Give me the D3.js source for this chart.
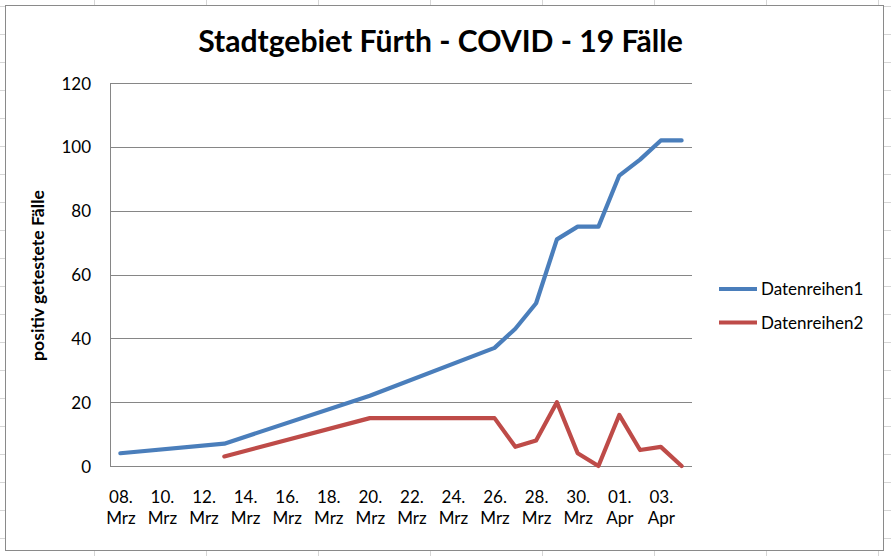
<!DOCTYPE html>
<html><head><meta charset="utf-8">
<script src="https://cdn.jsdelivr.net/npm/d3@7"></script>
<style>html,body{margin:0;padding:0;background:#fff;} svg{display:block;}</style>
</head><body><svg id="c" width="891" height="556"></svg>
<script>
const title = "Stadtgebiet Fürth - COVID - 19 Fälle";
const yAxisTitle = "positiv getestete Fälle";
const seriesNames = ["Datenreihen1", "Datenreihen2"];
const seriesColors = ["#4a7ebb", "#be4b48"];
const dates1 = ["2020-03-08","2020-03-13","2020-03-20","2020-03-26","2020-03-27","2020-03-28","2020-03-29","2020-03-30","2020-03-31","2020-04-01","2020-04-02","2020-04-03","2020-04-04"];
const values1 = [4, 7, 22, 37, 43, 51, 71, 75, 75, 91, 96, 102, 102];
const dates2 = ["2020-03-13","2020-03-20","2020-03-26","2020-03-27","2020-03-28","2020-03-29","2020-03-30","2020-03-31","2020-04-01","2020-04-02","2020-04-03","2020-04-04"];
const values2 = [3, 15, 15, 6, 8, 20, 4, 0, 16, 5, 6, 0];
const yTicks = [0, 20, 40, 60, 80, 100, 120];
const xTickDates = ["2020-03-08","2020-03-10","2020-03-12","2020-03-14","2020-03-16","2020-03-18","2020-03-20","2020-03-22","2020-03-24","2020-03-26","2020-03-28","2020-03-30","2020-04-01","2020-04-03"];
const monthAbbr = ["Jan","Feb","Mrz","Apr","Mai","Jun","Jul","Aug","Sep","Okt","Nov","Dez"];
const firstDay = "2020-03-08", lastDay = "2020-04-04";

const FONT = "Lato, 'Open Sans', sans-serif";
const parse = d3.utcParse("%Y-%m-%d");
const svg = d3.select("#c");
const W = 891, H = 556;

// spreadsheet cell grid behind the chart
const bg = svg.append("g");
bg.append("rect").attr("width", W).attr("height", H).attr("fill", "#fff");
for (let x = 94; x < W; x += 112) bg.append("line").attr("x1", x + 0.5).attr("x2", x + 0.5).attr("y1", 0).attr("y2", H).attr("stroke", "#d6d6d6");
for (let y = 5.5; y < H; y += 28.05) bg.append("line").attr("x1", 0).attr("x2", W).attr("y1", Math.round(y) + 0.5).attr("y2", Math.round(y) + 0.5).attr("stroke", "#d6d6d6");

// chart area
svg.append("rect").attr("x", 5.5).attr("y", 5.5).attr("width", 878).attr("height", 545)
  .attr("fill", "#fff").attr("stroke", "#8a8a8a").attr("stroke-width", 1);

const plot = {left: 110, right: 692, top: 83, bottom: 466};
const x = d3.scaleUtc()
  .domain([d3.utcHour.offset(parse(firstDay), -12), d3.utcHour.offset(parse(lastDay), 12)])
  .range([plot.left, plot.right]);
const y = d3.scaleLinear().domain([0, 120]).range([plot.bottom, plot.top]);

// gridlines
svg.append("g").selectAll("line").data(yTicks).join("line")
  .attr("x1", plot.left).attr("x2", plot.right)
  .attr("y1", d => Math.round(y(d)) + 0.5).attr("y2", d => Math.round(y(d)) + 0.5)
  .attr("stroke", "#868686").attr("stroke-width", 1);
svg.append("line").attr("x1", plot.left + 0.5).attr("x2", plot.left + 0.5)
  .attr("y1", plot.top).attr("y2", plot.bottom + 0.5).attr("stroke", "#868686");

// y axis
const yAxis = svg.append("g").attr("transform", `translate(${plot.left},0)`)
  .call(d3.axisLeft(y).tickValues(yTicks).tickSize(0).tickPadding(19));
yAxis.select(".domain").remove();
yAxis.selectAll("text").attr("font-family", FONT).attr("font-size", 17).attr("fill", "#000").attr("dy", "0.36em");

// x axis
const xAxis = svg.append("g").attr("transform", `translate(0,${plot.bottom})`)
  .call(d3.axisBottom(x).tickValues(xTickDates.map(parse)).tickSize(0).tickFormat(""));
xAxis.select(".domain").remove();
xAxis.selectAll(".tick").each(function(d) {
  const t = d3.select(this).append("text").attr("fill", "#000").attr("font-family", FONT).attr("font-size", 17).attr("text-anchor", "middle");
  t.append("tspan").attr("x", 0).attr("y", 37).text(d3.utcFormat("%d")(d) + ".");
  t.append("tspan").attr("x", 0).attr("y", 58).text(monthAbbr[d.getUTCMonth()]);
});

// lines
const line = d3.line().x(d => x(d[0])).y(d => y(d[1]));
const series = [
  dates1.map((d, i) => [parse(d), values1[i]]),
  dates2.map((d, i) => [parse(d), values2[i]])
];
series.forEach((s, i) => {
  svg.append("path").datum(s).attr("d", line).attr("fill", "none")
    .attr("stroke", seriesColors[i]).attr("stroke-width", 4.2)
    .attr("stroke-linejoin", "round").attr("stroke-linecap", "round");
});

// title
const tt = svg.append("text").attr("x", 440.5).attr("y", 52).attr("text-anchor", "middle")
  .attr("font-family", FONT).attr("font-weight", "bold").attr("font-size", 28).attr("fill", "#000").text(title);
const tw = tt.node().getComputedTextLength();
tt.attr("font-size", 28 * 485 / tw);

// y axis title
const yt = svg.append("text").attr("transform", "translate(44,275.5) rotate(-90)").attr("text-anchor", "middle")
  .attr("font-family", FONT).attr("font-weight", "bold").attr("font-size", 14).attr("fill", "#000").text(yAxisTitle);
const yw = yt.node().getComputedTextLength();
yt.attr("font-size", 14 * 171 / yw);

// legend
const legY = [289, 322.5];
seriesNames.forEach((n, i) => {
  svg.append("line").attr("x1", 719).attr("x2", 757).attr("y1", legY[i]).attr("y2", legY[i])
    .attr("stroke", seriesColors[i]).attr("stroke-width", 4.2);
  svg.append("text").attr("x", 761).attr("y", legY[i] + 6).attr("font-family", FONT).attr("font-size", 17)
    .attr("fill", "#000").text(n);
});
</script>
</body></html>
